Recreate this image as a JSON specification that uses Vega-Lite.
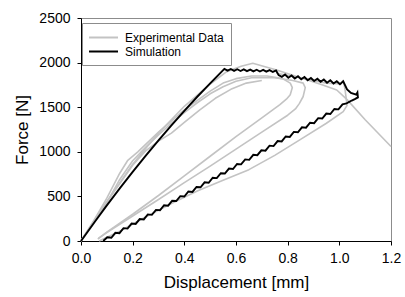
{
  "$schema": "https://vega.github.io/schema/vega-lite/v6.json",
  "width": 310,
  "height": 223,
  "autosize": "none",
  "padding": {"left": 81, "top": 18, "right": 14, "bottom": 56},
  "background": "white",
  "config": {
    "font": "Liberation Sans",
    "view": {"stroke": "#8c8c8c", "strokeWidth": 1},
    "axis": {
      "grid": false,
      "domainColor": "black",
      "tickColor": "black",
      "tickSize": 4,
      "labelFontSize": 14,
      "labelColor": "black",
      "labelFlush": false,
      "labelOverlap": false,
      "titleFontSize": 17,
      "titleFontWeight": "normal",
      "titleColor": "black",
      "labelFont": "Liberation Sans",
      "titleFont": "Liberation Sans"
    },
    "legend": {
      "labelFont": "Liberation Sans",
      "labelFontSize": 12,
      "labelColor": "black"
    }
  },
  "datasets": {
    "exp": [
      {"s": "e1", "i": 0, "x": 0, "y": 0},
      {"s": "e1", "i": 1, "x": 0.05, "y": 230},
      {"s": "e1", "i": 2, "x": 0.1, "y": 480},
      {"s": "e1", "i": 3, "x": 0.15, "y": 760},
      {"s": "e1", "i": 4, "x": 0.18, "y": 900},
      {"s": "e1", "i": 5, "x": 0.22, "y": 1000},
      {"s": "e1", "i": 6, "x": 0.3, "y": 1220},
      {"s": "e1", "i": 7, "x": 0.4, "y": 1470},
      {"s": "e1", "i": 8, "x": 0.5, "y": 1680},
      {"s": "e1", "i": 9, "x": 0.55, "y": 1770},
      {"s": "e1", "i": 10, "x": 0.6, "y": 1820},
      {"s": "e1", "i": 11, "x": 0.66, "y": 1850},
      {"s": "e1", "i": 12, "x": 0.72, "y": 1850},
      {"s": "e1", "i": 13, "x": 0.78, "y": 1820},
      {"s": "e1", "i": 14, "x": 0.81, "y": 1770},
      {"s": "e1", "i": 15, "x": 0.818, "y": 1720},
      {"s": "e1", "i": 16, "x": 0.81, "y": 1640},
      {"s": "e1", "i": 17, "x": 0.795, "y": 1590},
      {"s": "e1", "i": 18, "x": 0.77, "y": 1530},
      {"s": "e1", "i": 19, "x": 0.7, "y": 1380},
      {"s": "e1", "i": 20, "x": 0.6, "y": 1170},
      {"s": "e1", "i": 21, "x": 0.5, "y": 950},
      {"s": "e1", "i": 22, "x": 0.4, "y": 730},
      {"s": "e1", "i": 23, "x": 0.3, "y": 510},
      {"s": "e1", "i": 24, "x": 0.2, "y": 300},
      {"s": "e1", "i": 25, "x": 0.1, "y": 100},
      {"s": "e1", "i": 26, "x": 0.065, "y": 20},

      {"s": "e2", "i": 0, "x": 0, "y": 0},
      {"s": "e2", "i": 1, "x": 0.05, "y": 200},
      {"s": "e2", "i": 2, "x": 0.1, "y": 430},
      {"s": "e2", "i": 3, "x": 0.15, "y": 690},
      {"s": "e2", "i": 4, "x": 0.2, "y": 900},
      {"s": "e2", "i": 5, "x": 0.25, "y": 1050},
      {"s": "e2", "i": 6, "x": 0.3, "y": 1190},
      {"s": "e2", "i": 7, "x": 0.35, "y": 1320},
      {"s": "e2", "i": 8, "x": 0.4, "y": 1440},
      {"s": "e2", "i": 9, "x": 0.45, "y": 1550},
      {"s": "e2", "i": 10, "x": 0.5, "y": 1650},
      {"s": "e2", "i": 11, "x": 0.55, "y": 1730},
      {"s": "e2", "i": 12, "x": 0.6, "y": 1790},
      {"s": "e2", "i": 13, "x": 0.66, "y": 1830},
      {"s": "e2", "i": 14, "x": 0.75, "y": 1830},
      {"s": "e2", "i": 15, "x": 0.82, "y": 1800},
      {"s": "e2", "i": 16, "x": 0.86, "y": 1770},
      {"s": "e2", "i": 17, "x": 0.868, "y": 1720},
      {"s": "e2", "i": 18, "x": 0.86, "y": 1620},
      {"s": "e2", "i": 19, "x": 0.845, "y": 1540},
      {"s": "e2", "i": 20, "x": 0.83, "y": 1480},
      {"s": "e2", "i": 21, "x": 0.8, "y": 1410},
      {"s": "e2", "i": 22, "x": 0.7, "y": 1220},
      {"s": "e2", "i": 23, "x": 0.6, "y": 1030},
      {"s": "e2", "i": 24, "x": 0.5, "y": 840},
      {"s": "e2", "i": 25, "x": 0.4, "y": 655},
      {"s": "e2", "i": 26, "x": 0.3, "y": 465},
      {"s": "e2", "i": 27, "x": 0.2, "y": 280},
      {"s": "e2", "i": 28, "x": 0.1, "y": 95},
      {"s": "e2", "i": 29, "x": 0.067, "y": 30},

      {"s": "e3", "i": 0, "x": 0, "y": 0},
      {"s": "e3", "i": 1, "x": 0.1, "y": 440},
      {"s": "e3", "i": 2, "x": 0.2, "y": 850},
      {"s": "e3", "i": 3, "x": 0.25, "y": 1010},
      {"s": "e3", "i": 4, "x": 0.3, "y": 1120},
      {"s": "e3", "i": 5, "x": 0.35, "y": 1210},
      {"s": "e3", "i": 6, "x": 0.4, "y": 1330},
      {"s": "e3", "i": 7, "x": 0.46, "y": 1470},
      {"s": "e3", "i": 8, "x": 0.52, "y": 1600},
      {"s": "e3", "i": 9, "x": 0.58, "y": 1700},
      {"s": "e3", "i": 10, "x": 0.64, "y": 1770},
      {"s": "e3", "i": 11, "x": 0.7, "y": 1800},

      {"s": "e4", "i": 0, "x": 0, "y": 0},
      {"s": "e4", "i": 1, "x": 0.1, "y": 440},
      {"s": "e4", "i": 2, "x": 0.2, "y": 860},
      {"s": "e4", "i": 3, "x": 0.3, "y": 1210},
      {"s": "e4", "i": 4, "x": 0.4, "y": 1510},
      {"s": "e4", "i": 5, "x": 0.5, "y": 1760},
      {"s": "e4", "i": 6, "x": 0.564, "y": 1898},
      {"s": "e4", "i": 7, "x": 0.62, "y": 1960},
      {"s": "e4", "i": 8, "x": 0.665, "y": 1992},
      {"s": "e4", "i": 9, "x": 0.757, "y": 1917},
      {"s": "e4", "i": 10, "x": 0.85, "y": 1830},
      {"s": "e4", "i": 11, "x": 0.93, "y": 1755},
      {"s": "e4", "i": 12, "x": 0.99, "y": 1693},
      {"s": "e4", "i": 13, "x": 1.03, "y": 1585},
      {"s": "e4", "i": 14, "x": 1.1, "y": 1360},
      {"s": "e4", "i": 15, "x": 1.2, "y": 1060},

      {"s": "e5", "i": 0, "x": 0.757, "y": 1880},
      {"s": "e5", "i": 1, "x": 0.85, "y": 1830},
      {"s": "e5", "i": 2, "x": 0.95, "y": 1770},
      {"s": "e5", "i": 3, "x": 1.005, "y": 1760},
      {"s": "e5", "i": 4, "x": 1.015, "y": 1800},
      {"s": "e5", "i": 5, "x": 1.022, "y": 1700},
      {"s": "e5", "i": 6, "x": 1.03, "y": 1520},
      {"s": "e5", "i": 7, "x": 1.015, "y": 1450},
      {"s": "e5", "i": 8, "x": 0.95, "y": 1320},
      {"s": "e5", "i": 9, "x": 0.85, "y": 1140},
      {"s": "e5", "i": 10, "x": 0.75, "y": 960},
      {"s": "e5", "i": 11, "x": 0.65, "y": 800},
      {"s": "e5", "i": 12, "x": 0.55, "y": 680},
      {"s": "e5", "i": 13, "x": 0.45, "y": 560},
      {"s": "e5", "i": 14, "x": 0.35, "y": 420},
      {"s": "e5", "i": 15, "x": 0.25, "y": 270},
      {"s": "e5", "i": 16, "x": 0.15, "y": 110},
      {"s": "e5", "i": 17, "x": 0.07, "y": 0}
    ],
    "sim": [
      {"i": 0, "x": 0, "y": 0},
      {"i": 1, "x": 0.05, "y": 202},
      {"i": 2, "x": 0.1, "y": 399},
      {"i": 3, "x": 0.15, "y": 590},
      {"i": 4, "x": 0.2, "y": 775},
      {"i": 5, "x": 0.25, "y": 955},
      {"i": 6, "x": 0.3, "y": 1129},
      {"i": 7, "x": 0.35, "y": 1297},
      {"i": 8, "x": 0.4, "y": 1460},
      {"i": 9, "x": 0.45, "y": 1617},
      {"i": 10, "x": 0.5, "y": 1768},
      {"i": 11, "x": 0.555, "y": 1930},
      {"i": 12, "x": 0.5675, "y": 1910},
      {"i": 13, "x": 0.58, "y": 1928},
      {"i": 14, "x": 0.5925, "y": 1908},
      {"i": 15, "x": 0.605, "y": 1926},
      {"i": 16, "x": 0.6175, "y": 1906},
      {"i": 17, "x": 0.63, "y": 1924},
      {"i": 18, "x": 0.6425, "y": 1904},
      {"i": 19, "x": 0.655, "y": 1922},
      {"i": 20, "x": 0.6675, "y": 1902},
      {"i": 21, "x": 0.68, "y": 1920},
      {"i": 22, "x": 0.6925, "y": 1900},
      {"i": 23, "x": 0.705, "y": 1918},
      {"i": 24, "x": 0.7175, "y": 1898},
      {"i": 25, "x": 0.73, "y": 1915},
      {"i": 26, "x": 0.7425, "y": 1895},
      {"i": 27, "x": 0.755, "y": 1912},
      {"i": 28, "x": 0.765, "y": 1860},
      {"i": 29, "x": 0.7775, "y": 1840},
      {"i": 30, "x": 0.79, "y": 1866},
      {"i": 31, "x": 0.8025, "y": 1831},
      {"i": 32, "x": 0.815, "y": 1856},
      {"i": 33, "x": 0.8275, "y": 1822},
      {"i": 34, "x": 0.84, "y": 1847},
      {"i": 35, "x": 0.8525, "y": 1812},
      {"i": 36, "x": 0.865, "y": 1838},
      {"i": 37, "x": 0.8775, "y": 1803},
      {"i": 38, "x": 0.89, "y": 1828},
      {"i": 39, "x": 0.9025, "y": 1794},
      {"i": 40, "x": 0.915, "y": 1819},
      {"i": 41, "x": 0.9275, "y": 1785},
      {"i": 42, "x": 0.94, "y": 1810},
      {"i": 43, "x": 0.9525, "y": 1775},
      {"i": 44, "x": 0.965, "y": 1801},
      {"i": 45, "x": 0.9775, "y": 1766},
      {"i": 46, "x": 0.99, "y": 1791},
      {"i": 47, "x": 1.0025, "y": 1757},
      {"i": 48, "x": 1.015, "y": 1790},
      {"i": 49, "x": 1.03, "y": 1700},
      {"i": 50, "x": 1.045, "y": 1660},
      {"i": 51, "x": 1.065, "y": 1640},
      {"i": 52, "x": 1.07, "y": 1665},
      {"i": 53, "x": 1.072, "y": 1610},
      {"i": 54, "x": 1.06, "y": 1590},
      {"i": 55, "x": 1.048, "y": 1575},
      {"i": 56, "x": 1.035, "y": 1555},
      {"i": 57, "x": 1.028, "y": 1542},
      {"i": 58, "x": 1.0123, "y": 1531},
      {"i": 59, "x": 0.9966, "y": 1476},
      {"i": 60, "x": 0.9809, "y": 1480},
      {"i": 61, "x": 0.9652, "y": 1424},
      {"i": 62, "x": 0.9495, "y": 1429},
      {"i": 63, "x": 0.9338, "y": 1373},
      {"i": 64, "x": 0.9181, "y": 1377},
      {"i": 65, "x": 0.9024, "y": 1321},
      {"i": 66, "x": 0.8867, "y": 1326},
      {"i": 67, "x": 0.871, "y": 1270},
      {"i": 68, "x": 0.8553, "y": 1274},
      {"i": 69, "x": 0.8396, "y": 1219},
      {"i": 70, "x": 0.8239, "y": 1223},
      {"i": 71, "x": 0.8082, "y": 1167},
      {"i": 72, "x": 0.7925, "y": 1172},
      {"i": 73, "x": 0.7768, "y": 1116},
      {"i": 74, "x": 0.7611, "y": 1120},
      {"i": 75, "x": 0.7454, "y": 1064},
      {"i": 76, "x": 0.7297, "y": 1069},
      {"i": 77, "x": 0.714, "y": 1013},
      {"i": 78, "x": 0.6983, "y": 1017},
      {"i": 79, "x": 0.6826, "y": 962},
      {"i": 80, "x": 0.6669, "y": 966},
      {"i": 81, "x": 0.6512, "y": 910},
      {"i": 82, "x": 0.6355, "y": 915},
      {"i": 83, "x": 0.6198, "y": 859},
      {"i": 84, "x": 0.6041, "y": 863},
      {"i": 85, "x": 0.5884, "y": 807},
      {"i": 86, "x": 0.5727, "y": 812},
      {"i": 87, "x": 0.557, "y": 756},
      {"i": 88, "x": 0.5413, "y": 760},
      {"i": 89, "x": 0.5256, "y": 705},
      {"i": 90, "x": 0.5099, "y": 709},
      {"i": 91, "x": 0.4942, "y": 653},
      {"i": 92, "x": 0.4785, "y": 658},
      {"i": 93, "x": 0.4628, "y": 602},
      {"i": 94, "x": 0.4471, "y": 606},
      {"i": 95, "x": 0.4314, "y": 550},
      {"i": 96, "x": 0.4157, "y": 555},
      {"i": 97, "x": 0.4, "y": 499},
      {"i": 98, "x": 0.3843, "y": 503},
      {"i": 99, "x": 0.3686, "y": 448},
      {"i": 100, "x": 0.3529, "y": 452},
      {"i": 101, "x": 0.3372, "y": 396},
      {"i": 102, "x": 0.3215, "y": 401},
      {"i": 103, "x": 0.3058, "y": 345},
      {"i": 104, "x": 0.2901, "y": 349},
      {"i": 105, "x": 0.2744, "y": 293},
      {"i": 106, "x": 0.2587, "y": 298},
      {"i": 107, "x": 0.243, "y": 242},
      {"i": 108, "x": 0.2273, "y": 246},
      {"i": 109, "x": 0.2116, "y": 191},
      {"i": 110, "x": 0.1959, "y": 195},
      {"i": 111, "x": 0.1802, "y": 139},
      {"i": 112, "x": 0.1645, "y": 144},
      {"i": 113, "x": 0.1488, "y": 88},
      {"i": 114, "x": 0.1331, "y": 92},
      {"i": 115, "x": 0.1174, "y": 36},
      {"i": 116, "x": 0.1017, "y": 41},
      {"i": 117, "x": 0.086, "y": 0}
    ]
  },
  "encoding": {
    "x": {
      "field": "x", "type": "quantitative",
      "scale": {"domain": [0, 1.2], "nice": false, "zero": false},
      "axis": {"title": "Displacement [mm]", "values": [0, 0.2, 0.4, 0.6, 0.8, 1.0, 1.2], "format": ".1f", "labelPadding": 6, "titlePadding": 9}
    },
    "y": {
      "field": "y", "type": "quantitative",
      "scale": {"domain": [0, 2500], "nice": false},
      "axis": {"title": "Force [N]", "values": [0, 500, 1000, 1500, 2000, 2500], "format": "d", "labelPadding": 7, "titlePadding": 7}
    },
    "order": {"field": "i", "type": "quantitative"}
  },
  "layer": [
    {
      "data": {"name": "exp"},
      "mark": {"type": "line", "strokeWidth": 1.6, "strokeJoin": "round"},
      "encoding": {
        "detail": {"field": "s", "type": "nominal"},
        "color": {
          "datum": "Experimental Data",
          "type": "nominal",
          "scale": {"domain": ["Experimental Data", "Simulation"], "range": ["#c3c3c3", "#000000"]},
          "legend": {
            "title": null,
            "orient": "none",
            "legendX": 1,
            "legendY": 5,
            "symbolType": "M-1.15,0H3.31",
            "symbolSize": 169,
            "symbolStrokeWidth": 2,
            "labelOffset": 21,
            "padding": 7,
            "rowPadding": 0,
            "fillColor": "white",
            "strokeColor": "#8c8c8c"
          }
        }
      }
    },
    {
      "data": {"name": "sim"},
      "mark": {"type": "line", "strokeWidth": 1.9, "strokeJoin": "miter"},
      "encoding": {
        "color": {"datum": "Simulation", "type": "nominal"}
      }
    }
  ]
}
